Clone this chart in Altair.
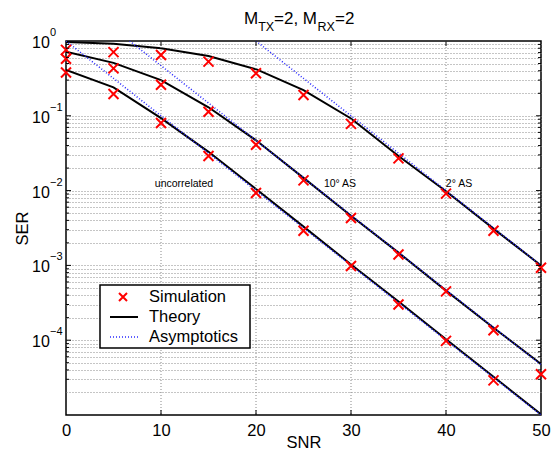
import altair as alt
import pandas as pd

# ---------------- data ----------------
snr = [0, 5, 10, 15, 20, 25, 30, 35, 40, 45, 50]

theory_uncorr = [0.41, 0.24, 0.093, 0.033, 0.0105, 0.0033, 1.03e-3, 3.3e-4, 1.03e-4, 3.25e-5, 1.02e-5]
theory_10 = [0.72, 0.51, 0.30, 0.13, 0.047, 0.0148, 0.0046, 0.00148, 4.6e-4, 1.47e-4, 4.8e-5]
theory_2 = [0.97, 0.92, 0.80, 0.63, 0.42, 0.22, 0.092, 0.029, 0.0098, 0.0031, 1.0e-3]

sim_uncorr = [0.38, 0.196, 0.080, 0.029, 0.0093, 0.0029, 9.8e-4, 3.0e-4, 9.8e-5, 2.9e-5, None]
sim_10 = [0.58, 0.43, 0.26, 0.113, 0.041, 0.0137, 0.0043, 0.0014, 4.5e-4, 1.36e-4, 3.5e-5]
sim_2 = [0.76, 0.71, 0.65, 0.53, 0.37, 0.19, 0.078, 0.027, 0.0091, 0.0029, 9.3e-4]

asym_uncorr_snr = [0, 50]
asym_uncorr_ser = [1.0, 1.0e-5]
asym_10_snr = [6.7, 50]
asym_10_ser = [1.0, 4.7e-5]
asym_2_snr = [20, 50]
asym_2_ser = [1.0, 1.0e-3]

x_ticks = [0, 10, 20, 30, 40, 50]
y_major = [1e-4, 1e-3, 1e-2, 1e-1, 1.0]
y_exponents = ["0", "\u22121", "\u22122", "\u22123", "\u22124"]
y_major_label_vals = [1.0, 1e-1, 1e-2, 1e-3, 1e-4]
y_minor = [k * 10.0 ** n for n in range(-5, 0) for k in range(2, 10)]

legend_labels = ["Simulation", "Theory", "Asymptotics"]
series_names = ["uncorrelated", "10\u00b0 AS", "2\u00b0 AS"]

# ---------------- tables ----------------
theory_rows, sim_rows, asym_rows = [], [], []
for name, th, sm in zip(series_names, [theory_uncorr, theory_10, theory_2], [sim_uncorr, sim_10, sim_2]):
    for s, t, m in zip(snr, th, sm):
        theory_rows.append({"series": name, "snr": s, "ser": t})
        if m is not None:
            sim_rows.append({"series": name, "snr": s, "ser": m})
for name, xs_, ys_ in zip(series_names, [asym_uncorr_snr, asym_10_snr, asym_2_snr],
                          [asym_uncorr_ser, asym_10_ser, asym_2_ser]):
    for s, v in zip(xs_, ys_):
        asym_rows.append({"series": name, "snr": s, "ser": v})

theory_df = pd.DataFrame(theory_rows)
sim_df = pd.DataFrame(sim_rows)
asym_df = pd.DataFrame(asym_rows)
xgrid_df = pd.DataFrame({"snr": x_ticks[1:-1]})
ymaj_df = pd.DataFrame({"ser": y_major[:-1]})
ymin_df = pd.DataFrame({"ser": y_minor[1:]})
ylab_df = pd.DataFrame({"ser": y_major_label_vals, "e": y_exponents})
one = pd.DataFrame({"a": [0]})

FONT = "Liberation Sans"
W, H = 475, 374
xs = alt.Scale(domain=[0, 50], nice=False, zero=False)
ys = alt.Scale(type="log", domain=[1e-5, 1], nice=False)
CROSS = "M-1,-1L1,1M-1,1L1,-1"
BLUE = "#2a2aff"

y_grid_vals = [k * 10.0 ** n for n in range(-5, 0) for k in range(1, 10)][1:]

X_AX = alt.Axis(values=x_ticks, grid=False, ticks=False, domain=False, labelFontSize=16.5,
                labelPadding=7, labelFlush=False, labelOverlap=False, labelBound=False,
                title="SNR", titleFontSize=16.5, titleX=237.5, titleY=32,
                titleAlign="center", titleBaseline="alphabetic")
Y_AX = alt.Axis(values=y_grid_vals, grid=True, labels=False, ticks=False, domain=False,
                title="SER", titleFontSize=16.5, titleAngle=270, titleX=-39, titleY=187,
                titleAlign="center", titleBaseline="alphabetic")

def X(f="snr:Q"):
    return alt.X(f, scale=xs, axis=X_AX)

def Y(f="ser:Q"):
    return alt.Y(f, scale=ys, axis=Y_AX)

theory = alt.Chart(theory_df).mark_line(color="black", strokeWidth=2, clip=True).encode(
    x=X(), y=Y(), detail="series:N")

xgrid = alt.Chart(xgrid_df).mark_rule(color="#8a8a8a", strokeDash=[1, 2], strokeWidth=1).encode(x=X())

asym = alt.Chart(asym_df).mark_line(color=BLUE, strokeWidth=1.6, strokeDash=[1, 2], clip=True).encode(
    x=X(), y=Y(), detail="series:N")

sim = alt.Chart(sim_df).mark_point(shape=CROSS, filled=False, color="red", strokeWidth=2, size=100,
                                   opacity=1).encode(x=X(), y=Y())

# inward tick marks (box on)
def yticks(df, length):
    left = alt.Chart(df).mark_rule(color="black", strokeWidth=1).encode(
        y=Y(), x=alt.value(0), x2=alt.value(length))
    right = alt.Chart(df).mark_rule(color="black", strokeWidth=1).encode(
        y=Y(), x=alt.value(W - length), x2=alt.value(W))
    return left + right

xt_bot = alt.Chart(xgrid_df).mark_rule(color="black", strokeWidth=1).encode(
    x=X(), y=alt.value(H - 5), y2=alt.value(H))
xt_top = alt.Chart(xgrid_df).mark_rule(color="black", strokeWidth=1).encode(
    x=X(), y=alt.value(0), y2=alt.value(5))

# y tick labels 10^k
ylab_base = alt.Chart(ylab_df).mark_text(align="left", baseline="alphabetic", dy=7, fontSize=16,
                                         font=FONT, color="black").encode(
    y=Y(), x=alt.value(-34), text=alt.value("10"))
ylab_exp = alt.Chart(ylab_df).mark_text(align="left", baseline="alphabetic", dy=-5, fontSize=11,
                                        font=FONT, color="black").encode(
    y=Y(), x=alt.value(-16), text="e:N")

# curve annotations (pixel positions inside the plot)
def annot(label, px, py):
    return alt.Chart(one).mark_text(fontSize=10.5, font=FONT, color="black", align="center",
                                    baseline="middle").encode(
        x=alt.value(px), y=alt.value(py), text=alt.value(label))

annots = annot(series_names[0], 118, 143) + annot(series_names[1], 274, 143) + annot(series_names[2], 393, 143)

# title with subscripts
def ttext(s, x, y, size):
    return alt.Chart(one).mark_text(align="left", baseline="alphabetic", fontSize=size, font=FONT,
                                    color="black").encode(x=alt.value(x), y=alt.value(y), text=alt.value(s))

title = (ttext("M", 178, -17, 17) + ttext("TX", 192.2, -10, 12.5) + ttext("=2, M", 208, -17, 17)
         + ttext("RX", 251.5, -10, 12.5) + ttext("=2", 269, -17, 17))

# legend box
leg_box = alt.Chart(one).mark_rect(fill="white", stroke="black", strokeWidth=1.5).encode(
    x=alt.value(34), x2=alt.value(184), y=alt.value(244), y2=alt.value(307))
leg_sim = alt.Chart(one).mark_point(shape=CROSS, filled=False, color="red", strokeWidth=2, size=64,
                                    opacity=1).encode(x=alt.value(57), y=alt.value(256))
leg_th = alt.Chart(one).mark_rule(color="black", strokeWidth=2).encode(
    x=alt.value(44), x2=alt.value(72), y=alt.value(276))
leg_as = alt.Chart(one).mark_rule(color=BLUE, strokeWidth=1.6, strokeDash=[1, 2]).encode(
    x=alt.value(44), x2=alt.value(72), y=alt.value(296))

def ltext(s, y):
    return alt.Chart(one).mark_text(align="left", baseline="middle", fontSize=16.5, font=FONT,
                                    color="black").encode(x=alt.value(83), y=alt.value(y), text=alt.value(s))

legend = (leg_box + leg_sim + leg_th + leg_as + ltext(legend_labels[0], 256)
          + ltext(legend_labels[1], 276) + ltext(legend_labels[2], 296))

chart = alt.layer(
    theory, xgrid, asym, sim, yticks(ymaj_df, 5), yticks(ymin_df, 3), xt_bot, xt_top,
    ylab_base, ylab_exp, annots, title, legend,
).properties(
    width=W, height=H,
    background="white",
    autosize=alt.AutoSizeParams(type="none"),
    padding={"left": 58, "top": 33, "right": 10, "bottom": 34},
).configure_view(
    stroke="black", strokeWidth=1.5
).configure_axis(
    labelFont=FONT, titleFont=FONT, labelColor="black", titleColor="black",
    titleFontWeight="normal", gridColor="#8a8a8a", gridDash=[1, 2], gridWidth=1,
)

chart.save("out.html", embed_options={"renderer": "svg", "actions": False})
